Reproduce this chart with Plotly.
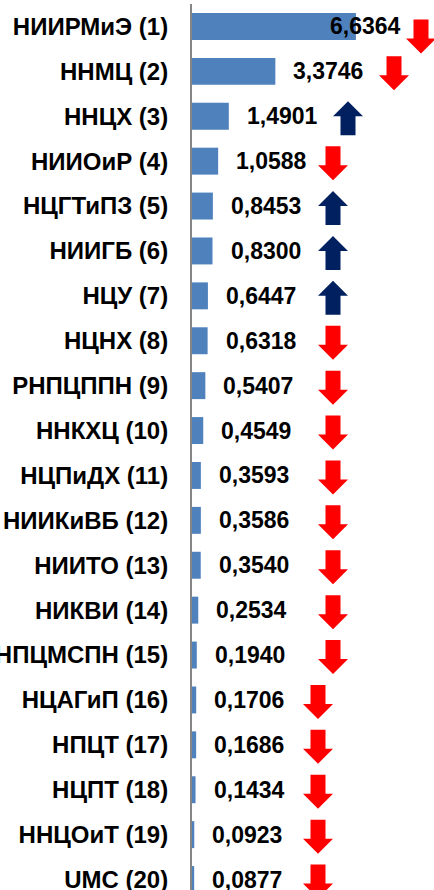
import plotly.graph_objects as go

categories = ["НИИРМиЭ (1)", "ННМЦ (2)", "ННЦХ (3)", "НИИОиР (4)", "НЦГТиПЗ (5)",
              "НИИГБ (6)", "НЦУ (7)", "НЦНХ (8)", "РНПЦППН (9)", "ННКХЦ (10)",
              "НЦПиДХ (11)", "НИИКиВБ (12)", "НИИТО (13)", "НИКВИ (14)", "НПЦМСПН (15)",
              "НЦАГиП (16)", "НПЦТ (17)", "НЦПТ (18)", "ННЦОиТ (19)", "UMC (20)"]
values = [6.6364, 3.3746, 1.4901, 1.0588, 0.8453, 0.8300, 0.6447, 0.6318, 0.5407, 0.4549,
          0.3593, 0.3586, 0.3540, 0.2534, 0.1940, 0.1706, 0.1686, 0.1434, 0.0923, 0.0877]
trend = ["down", "down", "up", "down", "up", "up", "up", "down", "down", "down",
         "down", "down", "down", "down", "down", "down", "down", "down", "down", "down"]
value_labels = [f"{v:.4f}".replace(".", ",") for v in values]

# style: pixel positions of arrow columns (from plot left edge) and label shifts
arrow_px = [229, 202, 156, 141, 141, 141, 141, 141, 141, 141,
            141, 141, 141, 141, 141, 126, 126, 126, 126, 126]
arrow_dy = [10] + [2] * 19
label_shift = [-28] + [16] * 19

W, H = 434, 890
ML, MT = 192, 4
plot_w = W - ML
px_per_unit = 24.7
xmax = plot_w / px_per_unit
row_px = 44.9
ymax = -0.5 + (H - MT) / row_px

FONT = "Liberation Sans"
fig = go.Figure(go.Bar(
    x=values, y=categories, orientation="h",
    marker=dict(color="#4F81BD", line=dict(width=0)),
    width=0.6,
))

for cat, v, lab, sh in zip(categories, values, value_labels, label_shift):
    fig.add_annotation(x=v, y=cat, text=lab, showarrow=False, xanchor="left",
                       xshift=sh, font=dict(family=FONT, size=23, color="black", weight="bold"))

down = "M -7.5,17 L 7.5,17 L 7.5,-2 L 15,-2 L 0,-17 L -15,-2 L -7.5,-2 Z"
up = "M -7.5,-17 L 7.5,-17 L 7.5,2 L 15,2 L 0,17 L -15,2 L -7.5,2 Z"

def shift_path(p, dy):
    out = []
    for tok in p.split():
        if "," in tok:
            a, b = tok.split(",")
            out.append(f"{float(a)},{float(b) - dy}")
        else:
            out.append(tok)
    return " ".join(out)

for i, (cat, t) in enumerate(zip(categories, trend)):
    path = down if t == "down" else up
    color = "#FF0000" if t == "down" else "#002060"
    fig.add_shape(type="path", xref="x", yref="y",
                  xsizemode="pixel", ysizemode="pixel",
                  xanchor=arrow_px[i] / px_per_unit, yanchor=i,
                  path=shift_path(path, arrow_dy[i]),
                  fillcolor=color, line=dict(width=0))

fig.update_layout(
    width=W, height=H,
    margin=dict(l=ML, r=0, t=MT, b=0, pad=0, autoexpand=False),
    plot_bgcolor="white", paper_bgcolor="white",
    showlegend=False,
    xaxis=dict(range=[0, xmax], visible=False, fixedrange=True, automargin=False),
    yaxis=dict(range=[ymax, -0.5], showline=True, linecolor="#868686", linewidth=2,
               ticks="", showgrid=False, ticklabelstandoff=17, automargin=False,
               tickfont=dict(family=FONT, size=24, color="black", weight="bold")),
)

fig.write_html("out.html", config={"displayModeBar": False},
               post_script="document.body.style.margin='0';document.body.style.overflow='hidden';")
